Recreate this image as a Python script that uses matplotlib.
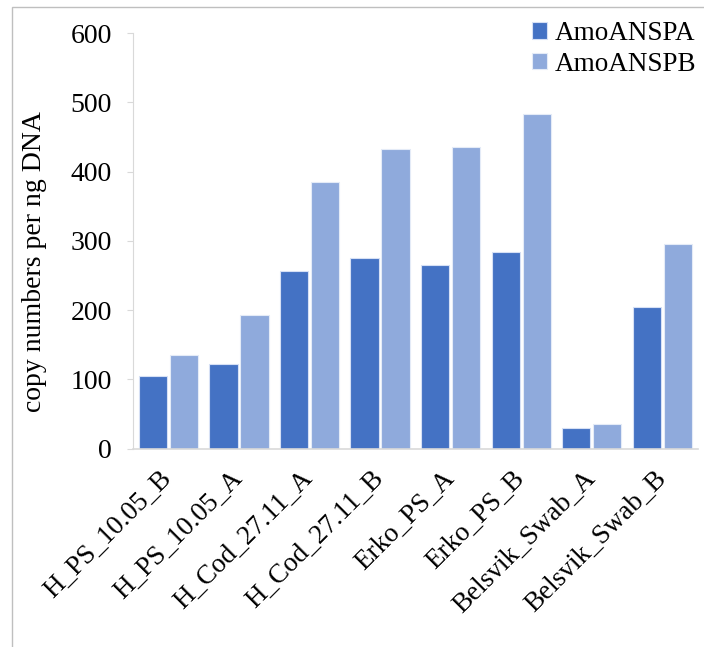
import numpy as np
import matplotlib.pyplot as plt
import matplotlib.transforms as mtransforms
from matplotlib.patches import Rectangle

plt.rcParams['font.family'] = ['Liberation Serif', 'DejaVu Serif']

samples = ['H_PS_10.05_B', 'H_PS_10.05_A', 'H_Cod_27.11_A', 'H_Cod_27.11_B',
           'Erko_PS_A', 'Erko_PS_B', 'Belsvik_Swab_A', 'Belsvik_Swab_B']
amoa = [105, 122, 256, 275, 265, 284, 29, 204]
amob = [135, 193, 385, 433, 435, 483, 36, 295]

fig = plt.figure(figsize=(7.04, 6.47), dpi=100)
ax = fig.add_axes([0.189, 0.3068, 0.802, 0.642])

x = np.arange(len(samples))
w = 0.4
ax.bar(x - w/2 - 0.02, amoa, w, color='#4472C4', edgecolor='#D6E0F5', linewidth=0.8, label='AmoANSPA')
ax.bar(x + w/2 + 0.02, amob, w, color='#8FAADC', edgecolor='#E4EBF7', linewidth=0.8, label='AmoANSPB')

ax.set_xlim(-0.5, len(samples) - 0.5)
ax.set_ylim(0, 600)
ax.set_yticks(range(0, 601, 100))
ax.set_xticks(x)
ax.set_xticklabels(samples, rotation=45, ha='right', va='center',
                   rotation_mode='anchor', fontsize=19.5)
shift = mtransforms.ScaledTranslation(4/100, 0, fig.dpi_scale_trans)
for lab in ax.get_xticklabels():
    lab.set_transform(lab.get_transform() + shift)
ax.tick_params(axis='x', length=0, pad=19)
ax.tick_params(axis='y', labelsize=20, length=4.3, color='#D9D9D9', pad=11)
for s in ['top', 'right']:
    ax.spines[s].set_visible(False)
ax.spines['left'].set_color('#D9D9D9')
ax.spines['bottom'].set_color('#D9D9D9')
ax.spines['bottom'].set_linewidth(1.2)
ax.set_ylabel('copy numbers per ng DNA', fontsize=20)
ax.yaxis.set_label_coords(-0.152, 0.451)

ax.legend(loc='upper right', bbox_to_anchor=(1.027, 1.068), frameon=False, fontsize=19.5,
          handlelength=0.55, handleheight=0.55, handletextpad=0.3, labelspacing=0.2,
          borderaxespad=0.2)

fig.add_artist(Rectangle((12/704, -0.1), 1.0, 1 - 7/647 + 0.1, transform=fig.transFigure,
                         fill=False, edgecolor='#BFBFBF', linewidth=1))

fig.savefig('out.png', dpi=100)
